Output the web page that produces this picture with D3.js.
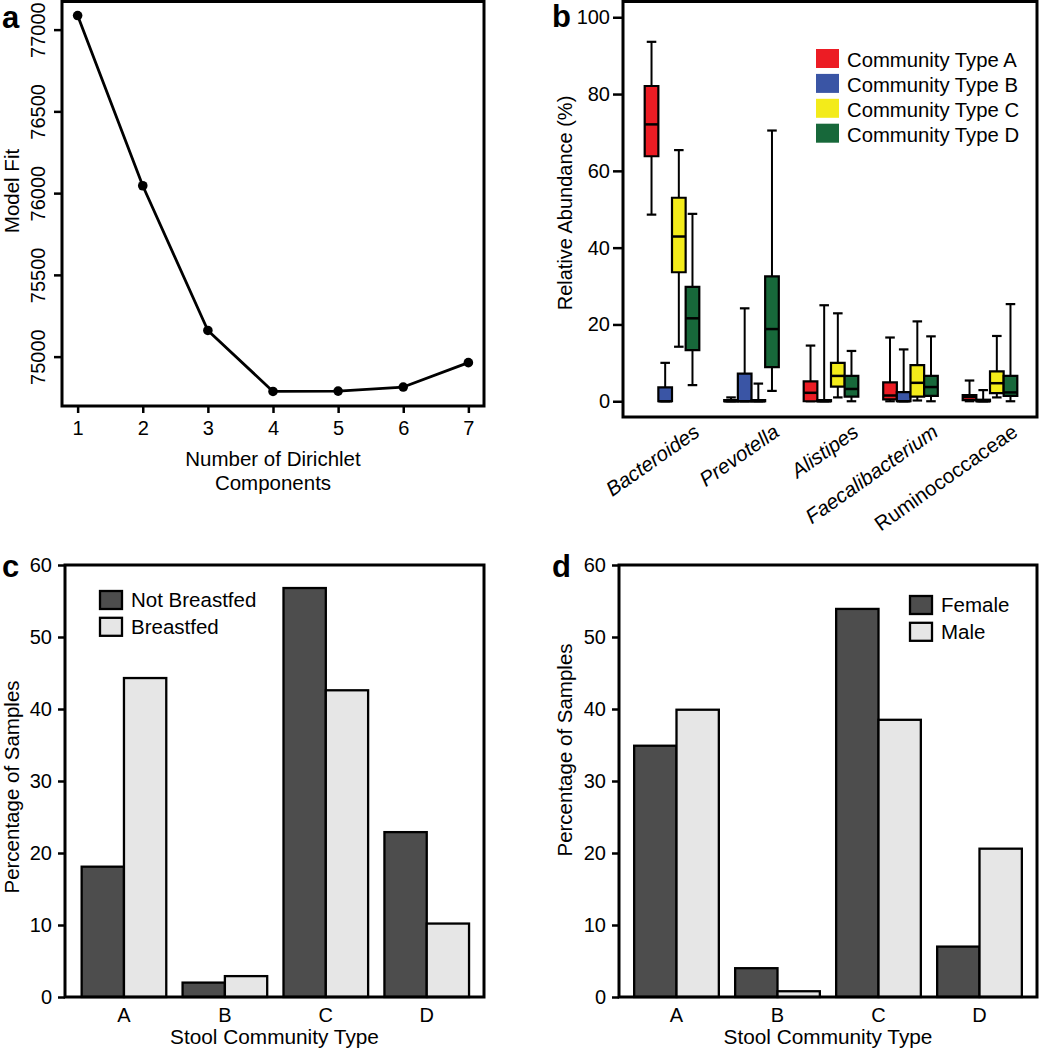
<!DOCTYPE html>
<html>
<head>
<meta charset="utf-8">
<script src="https://cdn.jsdelivr.net/npm/d3@7"></script>
<style>
  body { margin: 0; background: #fff; }
  svg { display: block; font-family: "Liberation Sans", Arial, Helvetica, sans-serif; }
</style>
</head>
<body>
<div id="app"></div>
<script>
// ---- data ----
// panel a
const dirichletK = [1, 2, 3, 4, 5, 6, 7];
const modelFit = [77086, 76045, 75160, 74787, 74789, 74814, 74963];
const modelFitTicks = [75000, 75500, 76000, 76500, 77000];

// panel b : [lower whisker, Q1, median, Q3, upper whisker] per genus
const genera = ["Bacteroides", "Prevotella", "Alistipes", "Faecalibacterium", "Ruminococcaceae"];
const communityTypes = ["Community Type A", "Community Type B", "Community Type C", "Community Type D"];
const boxTypeA = [[48.6, 63.8, 72.1, 82.1, 93.6], [0, 0, 0, 0.3, 1.0], [0, 0, 2.2, 5.2, 14.5], [0, 0.5, 1.5, 4.9, 16.6], [0, 0.3, 1.1, 1.6, 5.4]];
const boxTypeB = [[0, 0, 0, 3.6, 10.0], [0, 0, 0, 7.2, 24.2], [0, 0, 0, 0.3, 25.0], [0, 0, 0, 2.4, 13.5], [0, 0, 0, 0.4, 2.9]];
const boxTypeC = [[14.2, 33.6, 42.9, 53.0, 65.4], [0, 0, 0, 0.3, 4.6], [1.0, 3.8, 6.6, 10.0, 22.9], [0.2, 1.2, 4.8, 9.4, 20.8], [1.0, 2.1, 4.7, 7.8, 17.0]];
const boxTypeD = [[4.2, 13.3, 21.6, 29.8, 48.8], [2.7, 8.9, 18.8, 32.5, 70.5], [0, 1.2, 3.2, 6.6, 13.1], [0, 1.4, 3.7, 6.6, 16.9], [0, 1.4, 2.3, 6.6, 25.3]];
const abundanceTicks = [0, 20, 40, 60, 80, 100];

// panels c and d
const stoolTypes = ["A", "B", "C", "D"];
const notBreastfed = [18.1, 2.0, 56.8, 22.9];
const breastfed = [44.3, 2.9, 42.6, 10.2];
const female = [34.9, 4.0, 53.9, 7.0];
const male = [39.9, 0.8, 38.5, 20.6];
const percentTicks = [0, 10, 20, 30, 40, 50, 60];

// ---- styles ----
const typeColors = ["#ec1c24", "#3a55a5", "#f3eb1a", "#17683a"];
const darkFill = "#4d4d4d";
const lightFill = "#e6e6e6";
const fontSize = 20;
const lw = 2.5;

const svg = d3.select("#app").append("svg")
  .attr("width", 1039)
  .attr("height", 1050);

//style an axis group after d3 has drawn it
function styleAxis(g) {
  g.attr("font-size", fontSize).attr("font-family", null);
  g.selectAll("line").attr("stroke", "#000").attr("stroke-width", lw);
  g.selectAll("path.domain").attr("stroke", "#000").attr("stroke-width", lw);
  g.selectAll("text").attr("fill", "#000");
}

function frame(x0, y0, x1, y1) {
  svg.append("rect")
    .attr("x", x0).attr("y", y0)
    .attr("width", x1 - x0).attr("height", y1 - y0)
    .attr("fill", "none").attr("stroke", "#000").attr("stroke-width", 3);
}

function panelLetter(letter, x, y) {
  svg.append("text").attr("x", x).attr("y", y)
    .attr("font-size", 31).attr("font-weight", "bold").text(letter);
}

// ================= panel a =================
const aBox = { left: 62, right: 484, top: 1.5, bottom: 406 };
const xA = d3.scaleLinear().domain([0.76, 7.24]).range([aBox.left, aBox.right]);
const yA = d3.scaleLinear().domain([74698, 77172]).range([aBox.bottom, aBox.top]);

const gA = svg.append("g");
gA.append("g")
  .attr("transform", `translate(0,${aBox.bottom})`)
  .call(d3.axisBottom(xA).tickValues(dirichletK).tickFormat(d3.format("d"))
    .tickSize(7).tickSizeOuter(0).tickPadding(8))
  .call(styleAxis)
  .call(g => g.select(".domain").remove());
gA.append("g")
  .attr("transform", `translate(${aBox.left},0)`)
  .call(d3.axisLeft(yA).tickValues(modelFitTicks).tickFormat(d3.format("d"))
    .tickSize(8).tickSizeOuter(0))
  .call(styleAxis)
  .call(g => g.select(".domain").remove())
  .call(g => g.selectAll("text")
    .attr("x", 0).attr("dy", 0)
    .attr("text-anchor", "middle")
    .attr("transform", "translate(-17,0) rotate(-90)"));

gA.append("path")
  .datum(modelFit)
  .attr("fill", "none")
  .attr("stroke", "#000")
  .attr("stroke-width", 2.8)
  .attr("stroke-linejoin", "round")
  .attr("d", d3.line().x((d, i) => xA(dirichletK[i])).y(d => yA(d)));
gA.selectAll("circle.pt")
  .data(modelFit)
  .join("circle")
  .attr("class", "pt")
  .attr("cx", (d, i) => xA(dirichletK[i]))
  .attr("cy", d => yA(d))
  .attr("r", 4.8)
  .attr("fill", "#000");
frame(aBox.left, aBox.top, aBox.right, aBox.bottom);

gA.append("text")
  .attr("text-anchor", "middle")
  .attr("transform", "translate(19,191) rotate(-90)")
  .attr("font-size", 20.5)
  .text("Model Fit");
gA.append("text")
  .attr("text-anchor", "middle")
  .attr("x", (aBox.left + aBox.right) / 2)
  .attr("y", 466)
  .attr("font-size", 20.5)
  .text("Number of Dirichlet");
gA.append("text")
  .attr("text-anchor", "middle")
  .attr("x", (aBox.left + aBox.right) / 2)
  .attr("y", 490)
  .attr("font-size", 20.5)
  .text("Components");
panelLetter("a", 2, 28);

// ================= panel b =================
const bBox = { left: 623, right: 1037, top: 1.5, bottom: 417 };
const xB = d3.scaleBand().domain(genera).range([632.25, 1029.75]);
const xInner = d3.scaleBand().domain(communityTypes).range([-27.3, 27.3]);
const yB = d3.scaleLinear().domain([-4.1, 104.1]).range([bBox.bottom, bBox.top]);
const boxW = xInner.bandwidth();
const capW = boxW * 0.7;

const gB = svg.append("g");
gB.append("g")
  .attr("transform", `translate(${bBox.left},0)`)
  .call(d3.axisLeft(yB).tickValues(abundanceTicks).tickSize(10).tickPadding(3).tickSizeOuter(0))
  .call(styleAxis)
  .call(g => g.select(".domain").remove());

const boxSets = [boxTypeA, boxTypeB, boxTypeC, boxTypeD];
const boxes = [];
boxSets.forEach((set, j) => {
  set.forEach((s, i) => {
    boxes.push({
      genus: genera[i], type: communityTypes[j], color: typeColors[j],
      lo: s[0], q1: s[1], med: s[2], q3: s[3], hi: s[4]
    });
  });
});
const cxOf = d => xB(d.genus) + xB.bandwidth() / 2 + xInner(d.type) + boxW / 2;

const boxG = gB.selectAll("g.box").data(boxes).join("g").attr("class", "box");
boxG.append("line")
  .attr("x1", cxOf).attr("x2", cxOf)
  .attr("y1", d => yB(d.lo)).attr("y2", d => yB(d.hi))
  .attr("stroke", "#000").attr("stroke-width", 2);
boxG.append("line")
  .attr("x1", d => cxOf(d) - capW / 2).attr("x2", d => cxOf(d) + capW / 2)
  .attr("y1", d => yB(d.hi)).attr("y2", d => yB(d.hi))
  .attr("stroke", "#000").attr("stroke-width", 2.2);
boxG.append("line")
  .attr("x1", d => cxOf(d) - capW / 2).attr("x2", d => cxOf(d) + capW / 2)
  .attr("y1", d => yB(d.lo)).attr("y2", d => yB(d.lo))
  .attr("stroke", "#000").attr("stroke-width", 2.2);
boxG.append("path")
  .attr("d", d => {
    const x0 = cxOf(d) - boxW / 2, x1 = cxOf(d) + boxW / 2;
    return `M${x0},${yB(d.q3)}H${x1}V${yB(d.q1)}H${x0}Z`;
  })
  .attr("fill", d => d.color)
  .attr("stroke", "#000").attr("stroke-width", 2.2);
boxG.append("line")
  .attr("x1", d => cxOf(d) - boxW / 2).attr("x2", d => cxOf(d) + boxW / 2)
  .attr("y1", d => yB(d.med)).attr("y2", d => yB(d.med))
  .attr("stroke", "#000").attr("stroke-width", 2.5);

frame(bBox.left, bBox.top, bBox.right, bBox.bottom);

//genus labels, slanted
gB.append("g")
  .attr("transform", `translate(0,${bBox.bottom})`)
  .call(d3.axisBottom(xB).tickSize(0))
  .call(styleAxis)
  .call(g => g.select(".domain").remove())
  .call(g => g.selectAll("text")
    .attr("x", 0).attr("y", 0).attr("dy", 0)
    .attr("text-anchor", "end")
    .attr("font-size", 20.5)
    .attr("font-style", d => d === "Ruminococcaceae" ? "normal" : "italic")
    .attr("transform", "translate(29,18) rotate(-35)"));

gB.append("text")
  .attr("text-anchor", "middle")
  .attr("transform", "translate(572,203) rotate(-90)")
  .attr("font-size", 20)
  .text("Relative Abundance (%)");

//legend
const legB = gB.append("g").attr("transform", "translate(816,49)");
const legItems = legB.selectAll("g").data(communityTypes).join("g")
  .attr("transform", (d, i) => `translate(0,${i * 24.9})`);
legItems.append("rect")
  .attr("width", 23).attr("height", 19)
  .attr("fill", (d, i) => typeColors[i]);
legItems.append("text")
  .attr("x", 31).attr("y", 18)
  .attr("font-size", 20.3)
  .text(d => d);
panelLetter("b", 552, 27);

// ================= panels c and d =================
function barPanel(opts) {
  const { left, right, series, names, labelX, titleY, letterX, legendX, legendY } = opts;
  const top = 565, bottom = 997;
  const x = d3.scaleBand().domain(stoolTypes).range(opts.range).paddingInner(0.1616).paddingOuter(0.0808);
  const xSub = d3.scaleBand().domain([0, 1]).range([0, x.bandwidth()]);
  const y = d3.scaleLinear().domain([0, 60]).range([bottom, top]);
  const g = svg.append("g");

  g.append("g")
    .attr("transform", `translate(${left},0)`)
    .call(d3.axisLeft(y).tickValues(percentTicks).tickSize(7).tickPadding(6).tickSizeOuter(0))
    .call(styleAxis)
    .call(gg => gg.select(".domain").remove());

  const fills = [darkFill, lightFill];
  series.forEach((vals, k) => {
    g.selectAll(`rect.s${k}`)
      .data(vals)
      .join("rect")
      .attr("class", `s${k}`)
      .attr("x", (d, i) => x(stoolTypes[i]) + xSub(k))
      .attr("y", d => y(d))
      .attr("width", xSub.bandwidth())
      .attr("height", d => y(0) - y(d))
      .attr("fill", fills[k])
      .attr("stroke", "#000").attr("stroke-width", 2.3);
  });
  frame(left, top, right, bottom);

  g.append("g")
    .attr("transform", `translate(0,${bottom})`)
    .call(d3.axisBottom(x).tickSize(0).tickPadding(11))
    .call(styleAxis)
    .call(gg => gg.select(".domain").remove());

  g.append("text")
    .attr("text-anchor", "middle")
    .attr("x", (left + right) / 2)
    .attr("y", 1044)
    .attr("font-size", 20.8)
    .text("Stool Community Type");
  g.append("text")
    .attr("text-anchor", "middle")
    .attr("transform", `translate(${labelX},${titleY}) rotate(-90)`)
    .attr("font-size", 20.5)
    .text("Percentage of Samples");

  const leg = g.append("g").attr("transform", `translate(${legendX},${legendY})`);
  const items = leg.selectAll("g").data(names).join("g")
    .attr("transform", (d, i) => `translate(0,${i * 26.8})`);
  items.append("rect")
    .attr("width", 22).attr("height", 18)
    .attr("fill", (d, i) => fills[i])
    .attr("stroke", "#000").attr("stroke-width", 2.3);
  items.append("text")
    .attr("x", 31).attr("y", 16)
    .attr("font-size", 20.5)
    .text(d => d);

  panelLetter(opts.letter, letterX, 577);
}

barPanel({
  left: 65, right: 484, range: [73.5, 477.2],
  series: [notBreastfed, breastfed], names: ["Not Breastfed", "Breastfed"],
  labelX: 19, titleY: 787, letterX: 2, legendX: 100, legendY: 591, letter: "c"
});
barPanel({
  left: 619, right: 1037, range: [626, 1030],
  series: [female, male], names: ["Female", "Male"],
  labelX: 572, titleY: 750, letterX: 552, legendX: 910, legendY: 596, letter: "d"
});
</script>
</body>
</html>
